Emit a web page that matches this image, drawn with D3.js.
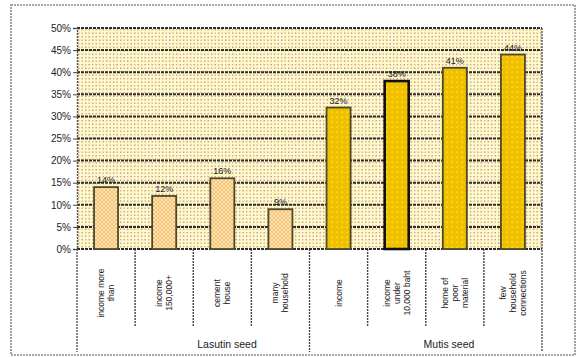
<!DOCTYPE html>
<html>
<head>
<meta charset="utf-8">
<script src="https://cdn.jsdelivr.net/npm/d3@7"></script>
<style>
  html, body { margin: 0; padding: 0; background: #fff; }
  svg { display: block; }
  text { font-family: "Liberation Sans", Arial, sans-serif; fill: #222; }
</style>
</head>
<body>
<svg id="chart" width="578" height="357"></svg>
<script>
// Share of households by indicator, two seed groups
const categories = [
  ["income more", "than"],
  ["income", "150,000+"],
  ["cement", "house"],
  ["many", "household"],
  ["income"],
  ["income", "under", "10,000 baht"],
  ["home of", "poor", "material"],
  ["few", "household", "connections"]
];
const values = [14, 12, 16, 9, 32, 38, 41, 44];
const groupOf = [0, 0, 0, 0, 1, 1, 1, 1];
const groups = ["Lasutin seed", "Mutis seed"];
const yTicks = [0, 5, 10, 15, 20, 25, 30, 35, 40, 45, 50];

const svg = d3.select("#chart");
const plot = { left: 77, top: 28, right: 542, bottom: 249 };

const defs = svg.append("defs");

// dotted cream background of the plot area
const bgPat = defs.append("pattern").attr("id", "bgDots")
  .attr("patternUnits", "userSpaceOnUse").attr("width", 7).attr("height", 7);
bgPat.append("rect").attr("width", 7).attr("height", 7).attr("fill", "#fff9c4");
bgPat.append("rect").attr("x", 1).attr("y", 1).attr("width", 1.4).attr("height", 1.4).attr("fill", "#f09cb0");
bgPat.append("rect").attr("x", 4.5).attr("y", 1).attr("width", 1.4).attr("height", 1.4).attr("fill", "#9fa2b4");
bgPat.append("rect").attr("x", 1).attr("y", 4.5).attr("width", 1.4).attr("height", 1.4).attr("fill", "#9fa2b4");
bgPat.append("rect").attr("x", 4.5).attr("y", 4.5).attr("width", 1.4).attr("height", 1.4).attr("fill", "#f09cb0");

// peach crosshatch for the first group
const hatch = defs.append("pattern").attr("id", "hatch")
  .attr("patternUnits", "userSpaceOnUse").attr("width", 4).attr("height", 4);
hatch.append("rect").attr("width", 4).attr("height", 4).attr("fill", "#ffe4a8");
hatch.append("path").attr("d", "M0,0 L4,4 M4,0 L0,4")
  .attr("stroke", "#f7c07e").attr("stroke-width", 0.9);

// gold with yellow dots for the second group
const gold = defs.append("pattern").attr("id", "gold")
  .attr("patternUnits", "userSpaceOnUse").attr("width", 5).attr("height", 5);
gold.append("rect").attr("width", 5).attr("height", 5).attr("fill", "#f0bf00");
gold.append("rect").attr("x", 1.5).attr("y", 1.5).attr("width", 1.3).attr("height", 1.3).attr("fill", "#fff13a");

// outer frame
svg.append("rect").attr("x", 11).attr("y", 5).attr("width", 564).attr("height", 350)
  .attr("fill", "#fff").attr("stroke", "#8a8a8a").attr("stroke-width", 1.6)
  .attr("stroke-dasharray", "2,1");

const x = d3.scaleBand().domain(d3.range(categories.length))
  .range([plot.left, plot.right]).paddingInner(0).paddingOuter(0);
const y = d3.scaleLinear().domain([0, 50]).range([plot.bottom, plot.top]);

// plot background
svg.append("rect").attr("x", plot.left).attr("y", plot.top)
  .attr("width", plot.right - plot.left).attr("height", plot.bottom - plot.top)
  .attr("fill", "url(#bgDots)");

// horizontal gridlines
svg.append("g").selectAll("line").data(yTicks).join("line")
  .attr("x1", plot.left).attr("x2", plot.right)
  .attr("y1", d => y(d)).attr("y2", d => y(d))
  .attr("stroke", "#2e2e2e").attr("stroke-width", 2)
  .attr("stroke-dasharray", "3,1");

// y axis
const yAxis = d3.axisLeft(y).tickValues(yTicks).tickFormat(d => d + "%").tickSize(4);
const gy = svg.append("g").attr("transform", `translate(${plot.left},0)`).call(yAxis);
gy.select(".domain").attr("stroke", "#555").attr("stroke-width", 1.4).attr("stroke-dasharray", "2,1");
gy.selectAll(".tick line").attr("stroke", "#444");
gy.selectAll(".tick text").attr("font-size", 10).attr("fill", "#333")
  .attr("font-family", "Liberation Sans, Arial, sans-serif").attr("x", -6);

// right edge of the plot, continued down through the label area
svg.append("line").attr("x1", plot.right).attr("x2", plot.right)
  .attr("y1", plot.top).attr("y2", 352)
  .attr("stroke", "#555").attr("stroke-width", 1.4).attr("stroke-dasharray", "2,1");
svg.append("line").attr("x1", plot.left).attr("x2", plot.left)
  .attr("y1", plot.bottom).attr("y2", 352)
  .attr("stroke", "#555").attr("stroke-width", 1.4).attr("stroke-dasharray", "2,1");

// bars
const barW = 24;
svg.append("g").selectAll("rect").data(values).join("rect")
  .attr("x", (d, i) => x(i) + x.bandwidth() / 2 - barW / 2)
  .attr("y", d => y(d))
  .attr("width", barW)
  .attr("height", d => y(0) - y(d))
  .attr("fill", (d, i) => groupOf[i] === 0 ? "url(#hatch)" : "url(#gold)")
  .attr("stroke", (d, i) => i === 5 ? "#111" : "#4d4a2a")
  .attr("stroke-width", (d, i) => i === 5 ? 2.6 : 1.8);

// value labels
svg.append("g").selectAll("text").data(values).join("text")
  .attr("x", (d, i) => x(i) + x.bandwidth() / 2)
  .attr("y", d => y(d) - 4)
  .attr("text-anchor", "middle")
  .attr("font-size", 9).attr("fill", "#333")
  .text(d => d + "%");

// category separators under the axis
const seps = d3.range(1, categories.length);
svg.append("g").selectAll("line").data(seps).join("line")
  .attr("x1", i => x(i)).attr("x2", i => x(i))
  .attr("y1", plot.bottom).attr("y2", i => i === 4 ? 352 : 327)
  .attr("stroke", "#444").attr("stroke-width", 1.4).attr("stroke-dasharray", "2,1");

// rotated category labels
const lh = 10;
const catG = svg.append("g").selectAll("text").data(categories).join("text")
  .attr("transform", (d, i) => `translate(${x(i) + x.bandwidth() / 2},293) rotate(-90)`)
  .attr("text-anchor", "middle").attr("font-size", 8.5).attr("fill", "#333");
catG.each(function (lines) {
  const t = d3.select(this);
  lines.forEach((ln, k) => {
    t.append("tspan").attr("x", 0)
      .attr("dy", k === 0 ? (-(lines.length - 1) / 2 * lh + 3) : lh)
      .text(ln);
  });
});

// group labels
const groupX = [227, 449];
svg.append("g").selectAll("text").data(groups).join("text")
  .attr("x", (d, i) => groupX[i]).attr("y", 348)
  .attr("text-anchor", "middle").attr("font-size", 10.5).attr("fill", "#333")
  .text(d => d);
</script>
</body>
</html>
